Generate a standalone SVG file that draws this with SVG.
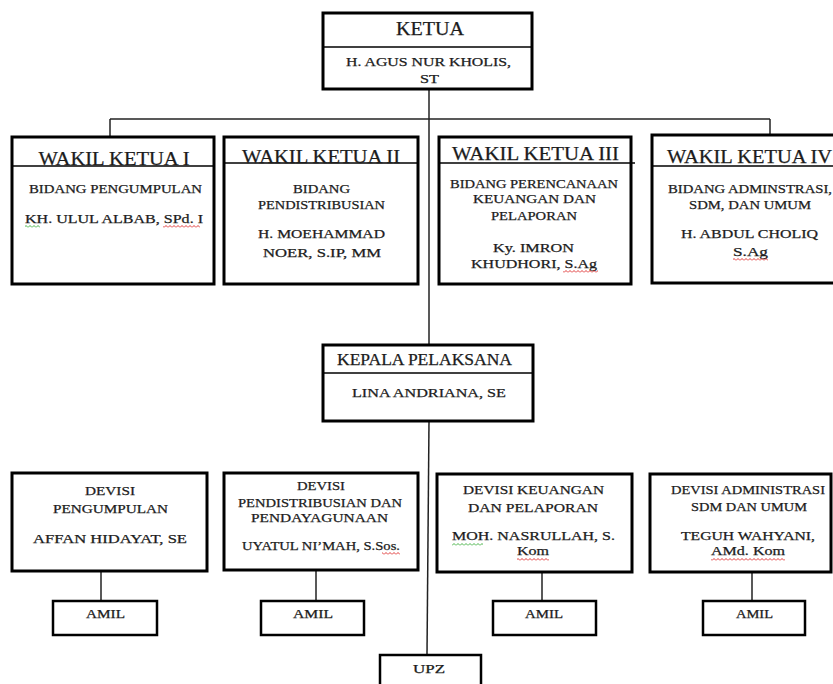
<svg xmlns="http://www.w3.org/2000/svg" width="833" height="684" viewBox="0 0 833 684">
<style>
.box{fill:#fff;stroke:#000;stroke-width:3}
.dv{stroke:#000;stroke-width:1.5;fill:none}
.conn{stroke:#222;stroke-width:1.5;fill:none}
text{font-family:"Liberation Serif","Times New Roman",serif;fill:#1c1c1c;stroke:#1c1c1c;stroke-width:0.25;text-anchor:middle}
.t1{font-size:18px}
.t2{font-size:16px}
.b{font-size:12.5px}
.s{font-size:11.5px}
</style>
<defs>
<pattern id="sqR" width="4" height="3" patternUnits="userSpaceOnUse"><path d="M0,2.5 L2,0.5 L4,2.5" fill="none" stroke="#d22" stroke-width="0.9"/></pattern>
<pattern id="sqG" width="4" height="3" patternUnits="userSpaceOnUse"><path d="M0,2.5 L2,0.5 L4,2.5" fill="none" stroke="#3a3" stroke-width="0.9"/></pattern>
</defs>
<rect width="833" height="684" fill="#fff"/>
<g id="connectors">
<path class="conn" d="M429,89 V345"/>
<path class="conn" d="M110,119 H770"/>
<path class="conn" d="M110,119 V143"/>
<path class="conn" d="M770,119 V142"/>
<path class="conn" d="M429,421 L427,655"/>
<path class="conn" d="M101,571 V601"/>
<path class="conn" d="M316,570 V601"/>
<path class="conn" d="M542,572 V601"/>
<path class="conn" d="M752,572 V601"/>
</g>
<g id="ketua">
<rect class="box" x="323" y="13" width="209" height="76"/>
<path class="dv" d="M323,47 H532"/>
<text class="t1" x="430" y="35" textLength="68" lengthAdjust="spacingAndGlyphs">KETUA</text>
<text class="b" x="428.5" y="66" textLength="165" lengthAdjust="spacingAndGlyphs">H. AGUS NUR KHOLIS,</text>
<text class="b" x="429.5" y="83" textLength="19" lengthAdjust="spacingAndGlyphs">ST</text>
</g>
<g id="wakil1">
<rect class="box" x="12" y="137" width="202" height="147"/>
<path class="dv" d="M12,166 H214"/>
<text class="t1" x="114" y="165" textLength="151" lengthAdjust="spacingAndGlyphs">WAKIL KETUA I</text>
<text class="b" x="115.5" y="193" textLength="173" lengthAdjust="spacingAndGlyphs">BIDANG PENGUMPULAN</text>
<text class="b" x="114" y="223" textLength="178" lengthAdjust="spacingAndGlyphs">KH. ULUL  ALBAB, SPd. I</text>
<rect x="25" y="225" width="15" height="3" fill="url(#sqG)"/>
<rect x="163" y="225" width="37" height="3" fill="url(#sqR)"/>
</g>
<g id="wakil2">
<rect class="box" x="224" y="137" width="194" height="147"/>
<path class="dv" d="M224,163 H418"/>
<text class="t1" x="321" y="163" textLength="158" lengthAdjust="spacingAndGlyphs">WAKIL KETUA II</text>
<text class="b" x="321.5" y="193" textLength="57" lengthAdjust="spacingAndGlyphs">BIDANG</text>
<text class="b" x="321.5" y="209" textLength="127" lengthAdjust="spacingAndGlyphs">PENDISTRIBUSIAN</text>
<text class="b" x="321.5" y="238" textLength="127" lengthAdjust="spacingAndGlyphs">H. MOEHAMMAD</text>
<text class="b" x="322" y="257" textLength="118" lengthAdjust="spacingAndGlyphs">NOER, S.IP, MM</text>
</g>
<g id="wakil3">
<rect class="box" x="439" y="137" width="192" height="147"/>
<path class="dv" d="M439,163 H635"/>
<text class="t1" x="535.5" y="160" textLength="167" lengthAdjust="spacingAndGlyphs">WAKIL KETUA III</text>
<text class="b" x="534" y="188" textLength="168" lengthAdjust="spacingAndGlyphs">BIDANG PERENCANAAN</text>
<text class="b" x="534.5" y="203" textLength="123" lengthAdjust="spacingAndGlyphs">KEUANGAN DAN</text>
<text class="b" x="534" y="220" textLength="86" lengthAdjust="spacingAndGlyphs">PELAPORAN</text>
<text class="b" x="533.5" y="252" textLength="81" lengthAdjust="spacingAndGlyphs">Ky. IMRON</text>
<text class="b" x="534" y="268" textLength="126" lengthAdjust="spacingAndGlyphs">KHUDHORI,  S.Ag</text>
<rect x="563" y="270" width="35" height="3" fill="url(#sqR)"/>
</g>
<g id="wakil4">
<rect class="box" x="652" y="135" width="190" height="148"/>
<path class="dv" d="M652,166 H842"/>
<text class="t1" x="749.5" y="163" textLength="165" lengthAdjust="spacingAndGlyphs">WAKIL KETUA IV</text>
<text class="b" x="750" y="193" textLength="164" lengthAdjust="spacingAndGlyphs">BIDANG ADMINSTRASI,</text>
<text class="b" x="750" y="209" textLength="122" lengthAdjust="spacingAndGlyphs">SDM, DAN UMUM</text>
<text class="b" x="749.5" y="238" textLength="137" lengthAdjust="spacingAndGlyphs">H. ABDUL CHOLIQ</text>
<text class="b" x="750.5" y="256" textLength="35" lengthAdjust="spacingAndGlyphs">S.Ag</text>
<rect x="733" y="258" width="35" height="3" fill="url(#sqR)"/>
</g>
<g id="kepala">
<rect class="box" x="323" y="345" width="210" height="76"/>
<path class="dv" d="M323,373 H533"/>
<text class="t2" x="424.5" y="365" textLength="175" lengthAdjust="spacingAndGlyphs">KEPALA PELAKSANA</text>
<text class="b" x="429" y="397" textLength="154" lengthAdjust="spacingAndGlyphs">LINA ANDRIANA,  SE</text>
</g>
<g id="devisi1">
<rect class="box" x="12" y="473" width="195" height="98"/>
<text class="b" x="110" y="495" textLength="50" lengthAdjust="spacingAndGlyphs">DEVISI</text>
<text class="b" x="110.5" y="513" textLength="115" lengthAdjust="spacingAndGlyphs">PENGUMPULAN</text>
<text class="b" x="110" y="543" textLength="154" lengthAdjust="spacingAndGlyphs">AFFAN HIDAYAT,  SE</text>
</g>
<g id="devisi2">
<rect class="box" x="224" y="473" width="194" height="97"/>
<text class="b" x="321" y="490" textLength="48" lengthAdjust="spacingAndGlyphs">DEVISI</text>
<text class="b" x="320" y="507" textLength="164" lengthAdjust="spacingAndGlyphs">PENDISTRIBUSIAN DAN</text>
<text class="b" x="319.5" y="522" textLength="137" lengthAdjust="spacingAndGlyphs">PENDAYAGUNAAN</text>
<text class="b" x="321" y="550" textLength="158" lengthAdjust="spacingAndGlyphs">UYATUL NI’MAH, S.Sos.</text>
<rect x="382" y="552" width="18" height="3" fill="url(#sqR)"/>
</g>
<g id="devisi3">
<rect class="box" x="437" y="474" width="195" height="98"/>
<text class="b" x="533.5" y="494" textLength="141" lengthAdjust="spacingAndGlyphs">DEVISI  KEUANGAN</text>
<text class="b" x="533" y="512" textLength="130" lengthAdjust="spacingAndGlyphs">DAN  PELAPORAN</text>
<text class="b" x="533.5" y="540" textLength="163" lengthAdjust="spacingAndGlyphs">MOH. NASRULLAH,  S.</text>
<text class="b" x="533" y="555" textLength="32" lengthAdjust="spacingAndGlyphs">Kom</text>
<rect x="452" y="543" width="31" height="3" fill="url(#sqG)"/>
<rect x="517" y="558" width="32" height="3" fill="url(#sqR)"/>
</g>
<g id="devisi4">
<rect class="box" x="650" y="474" width="181" height="98"/>
<text class="b" x="748" y="494" textLength="154" lengthAdjust="spacingAndGlyphs">DEVISI ADMINISTRASI</text>
<text class="b" x="749" y="511" textLength="116" lengthAdjust="spacingAndGlyphs">SDM DAN UMUM</text>
<text class="b" x="748" y="540" textLength="134" lengthAdjust="spacingAndGlyphs">TEGUH  WAHYANI,</text>
<text class="b" x="748" y="555" textLength="74" lengthAdjust="spacingAndGlyphs">AMd. Kom</text>
<rect x="711" y="558" width="74" height="3" fill="url(#sqR)"/>
</g>
<g id="amil1">
<rect class="box" x="53" y="601" width="104" height="34" style="stroke-width:2.5"/>
<text class="s" x="105.5" y="618" textLength="39" lengthAdjust="spacingAndGlyphs">AMIL</text>
</g>
<g id="amil2">
<rect class="box" x="261" y="601" width="103" height="34" style="stroke-width:2.5"/>
<text class="s" x="313" y="618" textLength="40" lengthAdjust="spacingAndGlyphs">AMIL</text>
</g>
<g id="amil3">
<rect class="box" x="493" y="601" width="103" height="34" style="stroke-width:2.5"/>
<text class="s" x="544" y="618" textLength="38" lengthAdjust="spacingAndGlyphs">AMIL</text>
</g>
<g id="amil4">
<rect class="box" x="703" y="601" width="102" height="34" style="stroke-width:2.5"/>
<text class="s" x="754.5" y="618" textLength="37" lengthAdjust="spacingAndGlyphs">AMIL</text>
</g>
<g id="upz">
<rect class="box" x="380" y="655" width="101" height="40" style="stroke-width:2.5"/>
<text class="s" x="429" y="673" textLength="32" lengthAdjust="spacingAndGlyphs">UPZ</text>
</g>
</svg>
